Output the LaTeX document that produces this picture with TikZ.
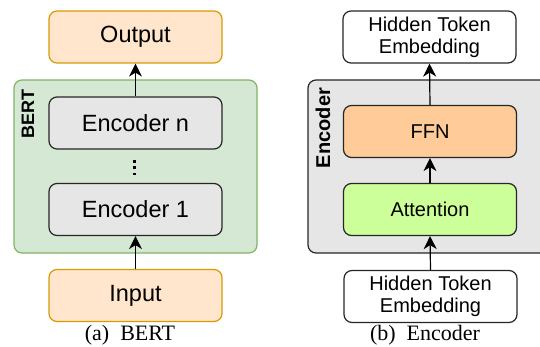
\documentclass[tikz,border=0pt]{standalone}
\usepackage{fontspec}
\setmainfont{Liberation Serif}
\setsansfont{Liberation Sans}
\usetikzlibrary{arrows.meta}
\definecolor{peachfill}{HTML}{FFE6CC}
\definecolor{peachdraw}{HTML}{D79B00}
\definecolor{greenfill}{HTML}{D5E8D4}
\definecolor{greendraw}{HTML}{82B366}
\definecolor{grayfill}{HTML}{E6E6E6}
\definecolor{ffnfill}{HTML}{FFCC99}
\definecolor{attfill}{HTML}{CCFF99}
\tikzset{
  box/.style={draw, rounded corners=8pt, line width=1.2pt, minimum width=173pt, minimum height=52pt, inner sep=0pt, font=\sffamily},
  io/.style={box, fill=peachfill, draw=peachdraw, font=\sffamily\fontsize{23.5}{26}\selectfont},
  enc/.style={box, fill=grayfill, draw=black!85, font=\sffamily\fontsize{23.5}{26}\selectfont},
  rbox/.style={box, draw=black!85, font=\sffamily\fontsize{20}{22}\selectfont, align=center},
  cont/.style={rounded corners=8pt, line width=1.2pt},
  arr/.style={line width=1.2pt, -{Stealth[length=13pt,width=13pt,inset=4pt]}},
  lab/.style={font=\sffamily\bfseries, rotate=90, inner sep=0pt},
  captext/.style={font=\rmfamily\fontsize{22}{24}\selectfont, inner sep=0pt}
}
\begin{document}
\begin{tikzpicture}[x=1pt,y=-1pt]
\useasboundingbox (0,0) rectangle (540,347);
% ---- (a) BERT ----
\draw[cont, fill=greenfill, draw=greendraw] (14,80) rectangle (257,253);
\node[lab, font=\sffamily\bfseries\fontsize{18}{20}\selectfont] (bertlab) at (28,114) {BERT};
\node[io] (out) at (135.5,37) {Output};
\node[enc] (encn) at (135.5,123) {Encoder n};
\node[enc] (enc1) at (135.5,209.5) {Encoder 1};
\node[io] (in) at (135.5,295.5) {Input};
\foreach \yy in {160.5,166.5,173} \fill (133.4,\yy) rectangle +(2.1,2.1);
\draw[arr] (encn.north) -- (out.south);
\draw[arr] (in.north) -- (enc1.south);
\node[captext] (capa) at (130,335) {(a)\ \ BERT};
% ---- (b) Encoder ----
\draw[cont, fill=grayfill, draw=black!85] (308,80) rectangle (560,253);
\node[lab, font=\sffamily\bfseries\fontsize{20}{22}\selectfont] (enclab) at (323,128) {Encoder};
\node[rbox, fill=white] (htetop) at (429.5,37) {Hidden Token\\Embedding};
\node[rbox, fill=ffnfill] (ffn) at (430,131.5) {FFN};
\node[rbox, fill=attfill] (att) at (430,209.5) {Attention};
\node[rbox, fill=white] (htebot) at (430.5,296.5) {Hidden Token\\Embedding};
\draw[arr] (ffn.north) -- (htetop.south);
\draw[arr] (att.north) -- (ffn.south);
\draw[arr] (htebot.north) -- (att.south);
\node[captext] (capb) at (425,335) {(b)\ \ Encoder};
\end{tikzpicture}
\end{document}
